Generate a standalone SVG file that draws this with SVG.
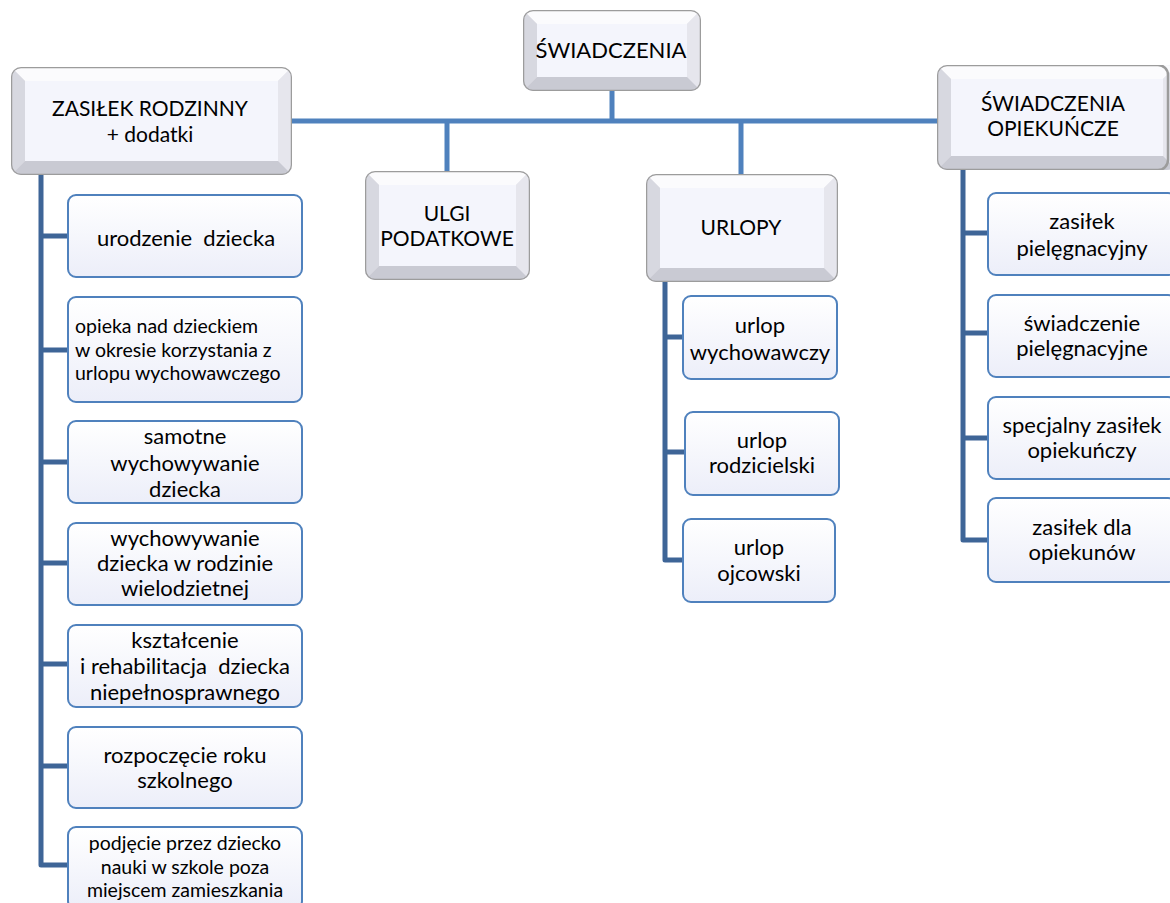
<svg xmlns="http://www.w3.org/2000/svg" width="1170" height="903" viewBox="0 0 1170 903">
<style>
text{font-family:Lato,"Open Sans","Liberation Sans",sans-serif;fill:#000;text-anchor:middle}
.m{font-size:21px}
.c{font-size:22px}
.c2{font-size:19.5px}
.s{font-size:19.5px;text-anchor:start}
.bar{stroke:#4f81bd;stroke-width:5;fill:none}
.tree{stroke:#3e6597;stroke-width:5;fill:none;stroke-linejoin:round;stroke-linecap:butt}
.child{fill:url(#cg);stroke:#4f81bd;stroke-width:2}
.bo{fill:#e4e4eb}
.bt{fill:#fbfbfd}
.bl{fill:#d7d8e0}
.br{fill:#e6e6ed}
.bb{fill:#c9cad3}
.bi{fill:#f4f5fc}
.bs{fill:none;stroke:#9c9c9c;stroke-width:2.5}
</style>
<defs>
<linearGradient id="cg" x1="0" y1="0" x2="0" y2="1">
<stop offset="0" stop-color="#ffffff"/>
<stop offset="1" stop-color="#eceef9"/>
</linearGradient>
<clipPath id="k0"><rect x="523" y="10" width="178" height="81" rx="10"/></clipPath>
<clipPath id="k1"><rect x="11" y="67" width="281" height="108" rx="10"/></clipPath>
<clipPath id="k2"><rect x="365" y="171" width="165" height="109" rx="10"/></clipPath>
<clipPath id="k3"><rect x="646" y="174" width="192" height="108" rx="10"/></clipPath>
<clipPath id="k4"><rect x="937" y="65" width="240" height="105" rx="10"/></clipPath>
</defs>
<rect width="1170" height="903" fill="#fff"/>
<g id="connectors">
<path class="bar" d="M292 121H937M612 91V121M447 121V171M741 121V174"/>
<path class="tree" d="M41 175V865H68M41 236H68M41 350H68M41 462H68M41 563H68M41 664H68M41 766H68"/>
<path class="tree" d="M665 282V560H683M665 337H683M665 452H685"/>
<path class="tree" d="M963 170V540H988M963 233H988M963 333H988M963 438H988"/>
</g>
<g id="n-swiadczenia" clip-path="url(#k0)">
<rect class="bo" x="523" y="10" width="178" height="81"/>
<polygon class="bt" points="523,10 701,10 687,24 537,24"/>
<polygon class="bl" points="523,10 537,24 537,77 523,91"/>
<polygon class="br" points="701,10 687,24 687,77 701,91"/>
<polygon class="bb" points="523,91 537,77 687,77 701,91"/>
<rect class="bi" x="537" y="24" width="150" height="53"/>
<rect class="bs" x="523" y="10" width="178" height="81" rx="10"/>
<text class="m" x="611" y="58" style="font-size:22px">ŚWIADCZENIA</text>
</g>
<g id="n-zasilek" clip-path="url(#k1)">
<rect class="bo" x="11" y="67" width="281" height="108"/>
<polygon class="bt" points="11,67 292,67 278,81 25,81"/>
<polygon class="bl" points="11,67 25,81 25,161 11,175"/>
<polygon class="br" points="292,67 278,81 278,161 292,175"/>
<polygon class="bb" points="11,175 25,161 278,161 292,175"/>
<rect class="bi" x="25" y="81" width="253" height="80"/>
<rect class="bs" x="11" y="67" width="281" height="108" rx="10"/>
<text class="m" x="150" y="116">ZASIŁEK RODZINNY</text>
<text class="m" x="150" y="142">+ dodatki</text>
</g>
<g id="n-ulgi" clip-path="url(#k2)">
<rect class="bo" x="365" y="171" width="165" height="109"/>
<polygon class="bt" points="365,171 530,171 516,185 379,185"/>
<polygon class="bl" points="365,171 379,185 379,266 365,280"/>
<polygon class="br" points="530,171 516,185 516,266 530,280"/>
<polygon class="bb" points="365,280 379,266 516,266 530,280"/>
<rect class="bi" x="379" y="185" width="137" height="81"/>
<rect class="bs" x="365" y="171" width="165" height="109" rx="10"/>
<text class="m" x="447" y="221">ULGI</text>
<text class="m" x="447" y="246">PODATKOWE</text>
</g>
<g id="n-urlopy" clip-path="url(#k3)">
<rect class="bo" x="646" y="174" width="192" height="108"/>
<polygon class="bt" points="646,174 838,174 824,188 660,188"/>
<polygon class="bl" points="646,174 660,188 660,268 646,282"/>
<polygon class="br" points="838,174 824,188 824,268 838,282"/>
<polygon class="bb" points="646,282 660,268 824,268 838,282"/>
<rect class="bi" x="660" y="188" width="164" height="80"/>
<rect class="bs" x="646" y="174" width="192" height="108" rx="10"/>
<text class="m" x="741" y="235">URLOPY</text>
</g>
<g id="n-opiekuncze" clip-path="url(#k4)">
<rect class="bo" x="937" y="65" width="240" height="105"/>
<polygon class="bt" points="937,65 1177,65 1163,79 951,79"/>
<polygon class="bl" points="937,65 951,79 951,156 937,170"/>
<polygon class="br" points="1177,65 1163,79 1163,156 1177,170"/>
<polygon class="bb" points="937,170 951,156 1163,156 1177,170"/>
<rect class="bi" x="951" y="79" width="212" height="77"/>
<rect class="bs" x="937" y="65" width="231" height="105" rx="10"/>
<text class="m" x="1053" y="111">ŚWIADCZENIA</text>
<text class="m" x="1053" y="136">OPIEKUŃCZE</text>
</g>
<g id="c-urodzenie"><rect class="child" x="68" y="195" width="234" height="82" rx="8"/><text class="c" x="186" y="246" xml:space="preserve">urodzenie  dziecka</text></g>
<g id="c-opieka"><rect class="child" x="68" y="297" width="234" height="105" rx="8"/><text class="s" x="75" y="333">opieka nad dzieckiem</text><text class="s" x="75" y="357">w okresie korzystania z</text><text class="s" x="75" y="380">urlopu wychowawczego</text></g>
<g id="c-samotne"><rect class="child" x="68" y="421" width="234" height="82" rx="8"/><text class="c" x="185" y="444">samotne</text><text class="c" x="185" y="471">wychowywanie</text><text class="c" x="185" y="497">dziecka</text></g>
<g id="c-wielodzietnej"><rect class="child" x="68" y="523" width="234" height="82" rx="8"/><text class="c" x="185" y="546">wychowywanie</text><text class="c" x="185" y="571">dziecka w rodzinie</text><text class="c" x="185" y="596">wielodzietnej</text></g>
<g id="c-ksztalcenie"><rect class="child" x="68" y="625" width="234" height="82" rx="8"/><text class="c" x="185" y="648">kształcenie</text><text class="c" x="185" y="674" xml:space="preserve">i rehabilitacja  dziecka</text><text class="c" x="185" y="700">niepełnosprawnego</text></g>
<g id="c-rozpoczecie"><rect class="child" x="68" y="727" width="234" height="81" rx="8"/><text class="c" x="185" y="763">rozpoczęcie roku</text><text class="c" x="185" y="788">szkolnego</text></g>
<g id="c-podjecie"><rect class="child" x="68" y="827" width="234" height="82" rx="8"/><text class="c2" x="185" y="850">podjęcie przez dziecko</text><text class="c2" x="185" y="874">nauki w szkole poza</text><text class="c2" x="185" y="897">miejscem zamieszkania</text></g>
<g id="u-wychowawczy"><rect class="child" x="683" y="296" width="154" height="83" rx="8"/><text class="c" x="760" y="333">urlop</text><text class="c" x="760" y="360">wychowawczy</text></g>
<g id="u-rodzicielski"><rect class="child" x="685" y="412" width="154" height="83" rx="8"/><text class="c" x="762" y="448">urlop</text><text class="c" x="762" y="473">rodzicielski</text></g>
<g id="u-ojcowski"><rect class="child" x="683" y="519" width="152" height="83" rx="8"/><text class="c" x="759" y="555">urlop</text><text class="c" x="759" y="581">ojcowski</text></g>
<g id="o-zasilek"><rect class="child" x="988" y="193" width="188" height="82" rx="8"/><text class="c" x="1082" y="229">zasiłek</text><text class="c" x="1082" y="256">pielęgnacyjny</text></g>
<g id="o-swiadczenie"><rect class="child" x="988" y="295" width="188" height="82" rx="8"/><text class="c" x="1082" y="331">świadczenie</text><text class="c" x="1082" y="356">pielęgnacyjne</text></g>
<g id="o-specjalny"><rect class="child" x="988" y="397" width="188" height="82" rx="8"/><text class="c" x="1082" y="433">specjalny zasiłek</text><text class="c" x="1082" y="458">opiekuńczy</text></g>
<g id="o-opiekunow"><rect class="child" x="988" y="498" width="188" height="84" rx="8"/><text class="c" x="1082" y="535">zasiłek dla</text><text class="c" x="1082" y="560">opiekunów</text></g>
</svg>
